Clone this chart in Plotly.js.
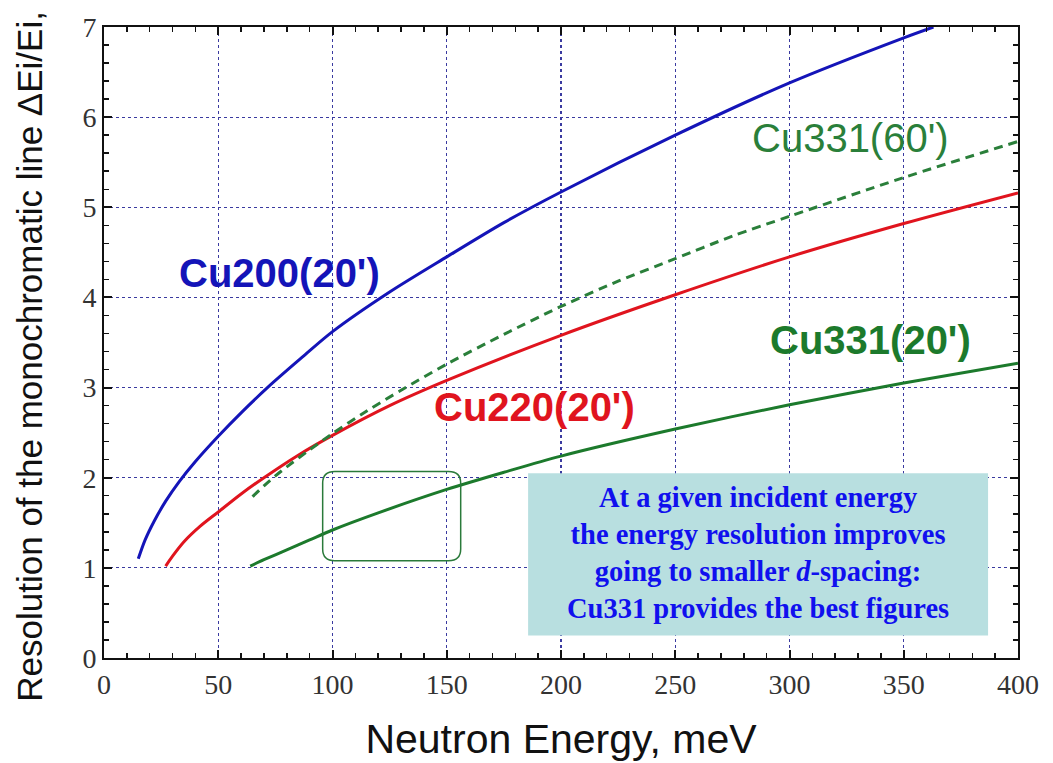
<!DOCTYPE html>
<html>
<head>
<meta charset="utf-8">
<script src="https://cdn.plot.ly/plotly-3.0.1.min.js"></script>
<style>html,body{margin:0;padding:0;background:#fff;}</style>
</head>
<body>
<div id="chart" style="width:1053px;height:763px;"></div>
<script>
// Cu200(20') – blue solid
const cu200_x = [15, 18, 22, 27, 33, 40, 50, 60, 72, 86, 100, 125, 150, 175, 200, 250, 300, 350, 363];
const cu200_y = [1.10, 1.31, 1.52, 1.74, 1.96, 2.18, 2.46, 2.72, 3.01, 3.32, 3.62, 4.06, 4.45, 4.83, 5.17, 5.80, 6.38, 6.88, 7.00];
// Cu220(20') – red solid
const cu220_x = [27, 30, 35, 42, 50, 60, 70, 85, 100, 125, 150, 200, 250, 300, 350, 400];
const cu220_y = [1.02, 1.13, 1.29, 1.46, 1.62, 1.82, 2.00, 2.25, 2.47, 2.80, 3.08, 3.58, 4.03, 4.45, 4.82, 5.16];
// Cu331(60') – green dashed
const cu331w_x = [65, 70, 75, 80, 90, 100, 115, 130, 150, 175, 200, 225, 250, 275, 300, 350, 400];
const cu331w_y = [1.79, 1.91, 2.02, 2.12, 2.31, 2.49, 2.74, 2.97, 3.26, 3.59, 3.90, 4.18, 4.43, 4.68, 4.90, 5.33, 5.73];
// Cu331(20') – green solid
const cu331_x = [64, 70, 80, 90, 100, 120, 150, 175, 200, 250, 300, 350, 400];
const cu331_y = [1.02, 1.09, 1.20, 1.31, 1.42, 1.61, 1.87, 2.06, 2.24, 2.54, 2.81, 3.05, 3.27];

const xTicks = [0, 50, 100, 150, 200, 250, 300, 350, 400];
const yTicks = [0, 1, 2, 3, 4, 5, 6, 7];

const curveLabels = ["Cu200(20')", "Cu220(20')", "Cu331(20')", "Cu331(60')"];
const noteLines = ["At a given incident energy", "the energy resolution improves",
                   "going to smaller <i>d</i>-spacing:", "Cu331 provides the best figures"];
const yTitle = 'Resolution of the monochromatic line ΔEi/Ei,';
const xTitle = 'Neutron Energy, meV';

const BLUE = '#1414b8', RED = '#e0141e', GREEN = '#1c7a2c', GREEN2 = '#2a7f3a';
const SANS = "'Liberation Sans', Arial, sans-serif";
const SERIF = "'Liberation Serif', 'Times New Roman', serif";

const traces = [
  {x: cu200_x, y: cu200_y, mode: 'lines', line: {color: BLUE, width: 3, shape: 'spline', smoothing: 0.8}, name: curveLabels[0]},
  {x: cu220_x, y: cu220_y, mode: 'lines', line: {color: RED, width: 3, shape: 'spline', smoothing: 0.8}, name: curveLabels[1]},
  {x: cu331_x, y: cu331_y, mode: 'lines', line: {color: GREEN, width: 3, shape: 'spline', smoothing: 0.8}, name: curveLabels[2]},
  {x: cu331w_x, y: cu331w_y, mode: 'lines', line: {color: GREEN2, width: 3, shape: 'spline', smoothing: 0.8, dash: '9px,6px'}, name: curveLabels[3]}
];

// rounded highlight box (data coords)
const bx0 = 95.7, bx1 = 156.1, by0 = 1.08, by1 = 2.07, rx = 5.3, ry = 0.13;
const roundPath = `M ${bx0+rx},${by1} L ${bx1-rx},${by1} Q ${bx1},${by1} ${bx1},${by1-ry} ` +
  `L ${bx1},${by0+ry} Q ${bx1},${by0} ${bx1-rx},${by0} L ${bx0+rx},${by0} Q ${bx0},${by0} ${bx0},${by0+ry} ` +
  `L ${bx0},${by1-ry} Q ${bx0},${by1} ${bx0+rx},${by1} Z`;

function axisBase() {
  return {
    showline: true, linecolor: '#111', linewidth: 2, mirror: 'allticks',
    ticks: 'inside', ticklen: 8, tickwidth: 2, tickcolor: '#111',
    showgrid: true, gridcolor: '#3a3aa0', gridwidth: 1.2, griddash: 'dot',
    zeroline: false,
    tickfont: {family: SERIF, size: 28, color: '#333333'}
  };
}

const layout = {
  width: 1053, height: 763,
  margin: {l: 104, r: 35, t: 27, b: 105},
  paper_bgcolor: '#fff', plot_bgcolor: '#fff',
  showlegend: false,
  font: {family: SERIF},
  xaxis: Object.assign(axisBase(), {
    range: [0, 400], tickvals: xTicks, ticktext: xTicks.map(String),
    minor: {dtick: 10, ticks: 'inside', ticklen: 5, tickwidth: 1.5, tickcolor: '#111', showgrid: false},
    title: {text: xTitle, font: {family: SANS, size: 41, color: '#111'}, standoff: 26}
  }),
  yaxis: Object.assign(axisBase(), {
    range: [0, 7], tickvals: yTicks, ticktext: yTicks.map(String),
    minor: {dtick: 0.2, ticks: 'inside', ticklen: 5, tickwidth: 1.5, tickcolor: '#111', showgrid: false},
    title: {text: ''}
  }),
  shapes: [
    {type: 'rect', xref: 'x', yref: 'y', x0: 185.6, x1: 386.9, y0: 0.25, y1: 2.05,
     fillcolor: '#b8dfe0', line: {width: 0}, layer: 'above'},
    {type: 'path', xref: 'x', yref: 'y', path: roundPath, line: {color: '#2a7a3a', width: 1.5}, layer: 'above'}
  ],
  annotations: [
    {x: -0.081, y: 0.479, xref: 'paper', yref: 'paper', text: yTitle, textangle: -90, showarrow: false,
     xanchor: 'center', yanchor: 'middle', font: {family: SANS, size: 35, color: '#111'}},
    {x: 76.6, y: 4.27, xref: 'x', yref: 'y', text: '<b>' + curveLabels[0] + '</b>', showarrow: false,
     font: {family: SANS, size: 40, color: BLUE}},
    {x: 188.2, y: 2.78, xref: 'x', yref: 'y', text: '<b>' + curveLabels[1] + '</b>', showarrow: false,
     font: {family: SANS, size: 40, color: RED}},
    {x: 335.4, y: 3.53, xref: 'x', yref: 'y', text: '<b>' + curveLabels[2] + '</b>', showarrow: false,
     font: {family: SANS, size: 40, color: GREEN}},
    {x: 326.5, y: 5.77, xref: 'x', yref: 'y', text: curveLabels[3], showarrow: false,
     font: {family: SANS, size: 40, color: GREEN2}},
    {x: 286.2, y: 1.16, xref: 'x', yref: 'y', text: '<b>' + noteLines.join('<br>') + '</b>', showarrow: false,
     align: 'center', font: {family: SERIF, size: 28.5, color: '#1010ee'}}
  ]
};

Plotly.newPlot('chart', traces, layout, {displayModeBar: false, staticPlot: true});
</script>
</body>
</html>
